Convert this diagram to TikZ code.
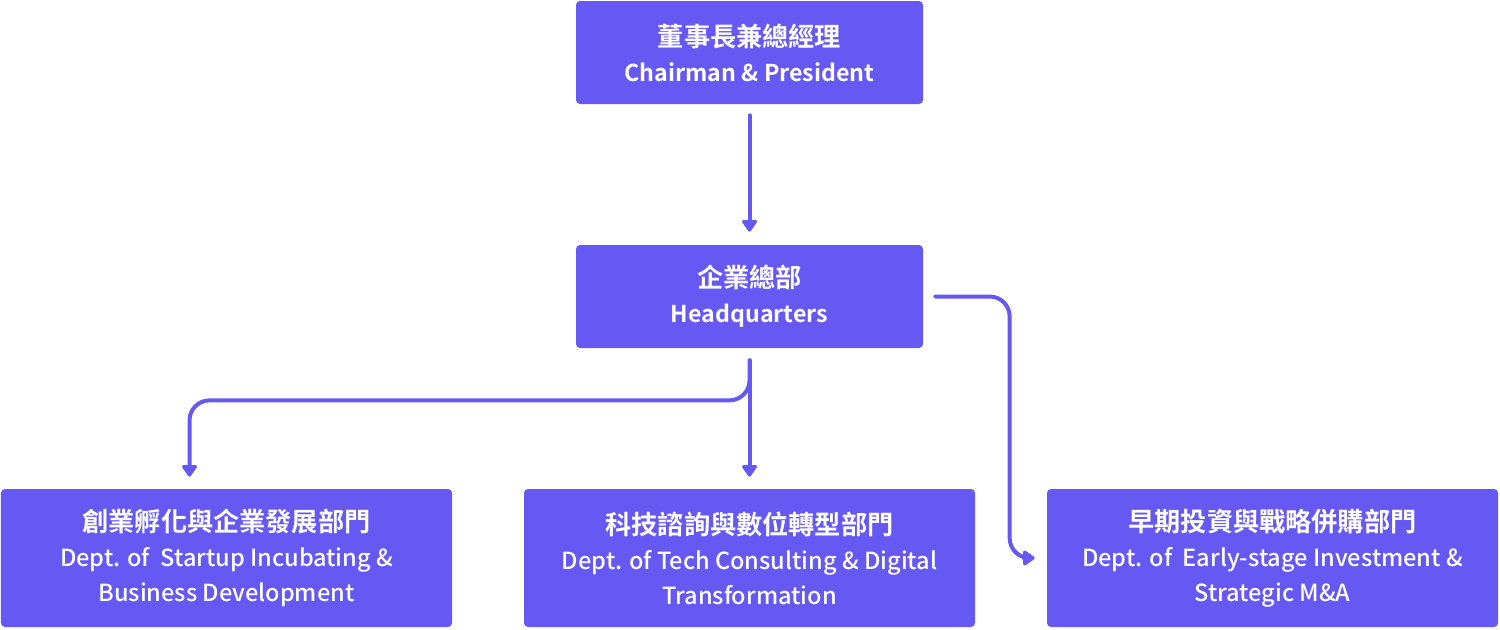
\documentclass[tikz,border=0pt]{standalone}
\usepackage{fontspec}
\setmainfont{Noto Sans CJK TC}[UprightFont=* Medium, BoldFont=* Bold]
\usetikzlibrary{arrows.meta}
\definecolor{brand}{RGB}{102,88,242}
\newcommand{\zhline}[1]{{\bfseries\fontsize{14.9pt}{20pt}\selectfont #1}}

\begin{document}
\begin{tikzpicture}[
        unit/.style={fill=brand, text=white, rounded corners=0.08cm, align=center,
            font=\fontsize{13.4pt}{20pt}\selectfont, inner sep=0pt},
        boss/.style={unit, minimum width=6.94cm, minimum height=2.06cm},
        dept/.style={unit, minimum width=9.02cm, minimum height=2.76cm},
        link/.style={brand, line width=0.08cm, line cap=round, rounded corners=0.4cm,
            -{Triangle[width=0.34cm, length=0.26cm, round]}}
    ]

        \useasboundingbox (0cm,0cm) rectangle (30cm,-12.58cm);  %Rahmen

        \node[boss] (chair) at (14.99cm,-1.05cm) {\zhline{董事長兼總經理}\\ \bfseries\fontsize{13.2pt}{20pt}\selectfont Chairman \& President};
        \node[boss] (hq) at (14.99cm,-5.93cm) {\zhline{企業總部}\\ \bfseries\fontsize{13.2pt}{20pt}\selectfont Headquarters};

        \node[dept] (incub) at (4.53cm,-11.16cm) {\zhline{創業孵化與企業發展部門}\\ Dept. of \ Startup Incubating \&\\ Business Development};
        \node[dept] (tech) at (14.99cm,-11.16cm) {\zhline{科技諮詢與數位轉型部門}\\ Dept. of Tech Consulting \& Digital\\ Transformation};
        \node[dept] (invest) at (25.45cm,-11.16cm) {\zhline{早期投資與戰略併購部門}\\ Dept. of \ Early-stage Investment \&\\ Strategic M\&A};

        \draw[link] ([yshift=-0.22cm]chair.south) -- ([yshift=0.26cm]hq.north);  %Vorsitz -> Zentrale
        \draw[link] ([yshift=-0.24cm]hq.south) -- ([yshift=0.24cm]tech.north);  %Mitte
        \draw[link] ([yshift=-0.24cm]hq.south) |- ([yshift=-1.04cm]hq.south) -| ([xshift=-0.74cm, yshift=0.24cm]incub.north);  %links
        \draw[link] ([xshift=0.24cm]hq.east) -| ([xshift=-0.74cm]invest.west) -- ([xshift=-0.24cm]invest.west);  %rechts

    \end{tikzpicture}
\end{document}
